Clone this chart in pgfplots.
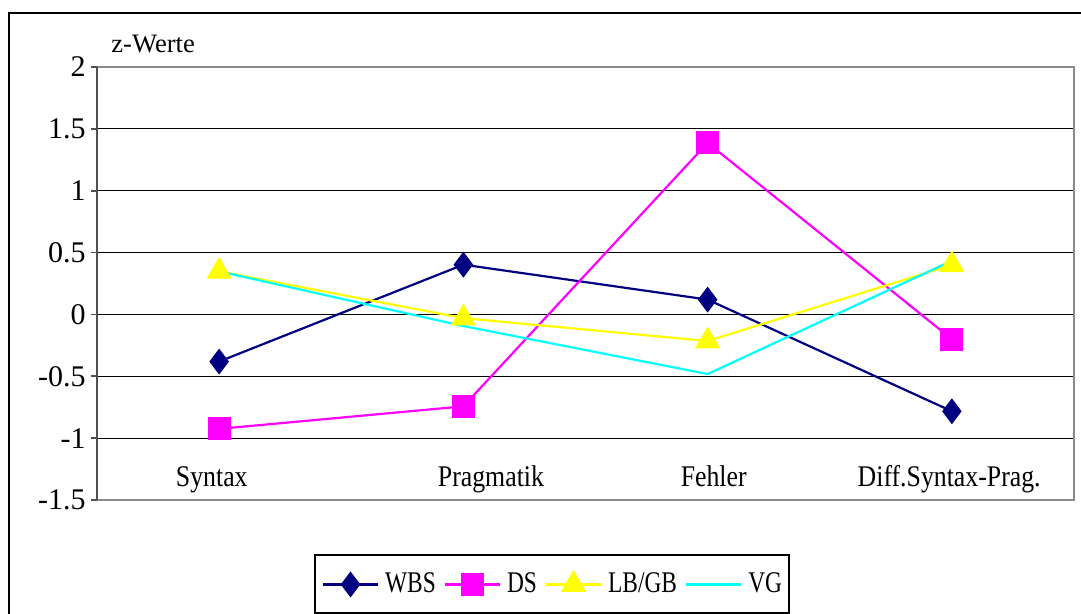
\documentclass[border=0pt]{standalone}
\usepackage{fontspec}
\setmainfont{Liberation Serif}
\newfontfamily\catfont[FakeStretch=0.86]{Liberation Serif}
\newfontfamily\legfont[FakeStretch=0.78]{Liberation Serif}
\usepackage{pgfplots}
\usepackage{pgfplotstable}
\pgfplotsset{compat=1.18}
\definecolor{navy}{HTML}{000080}
\definecolor{mag}{HTML}{FF00FF}
\definecolor{yel}{HTML}{FFFF00}
\definecolor{cya}{HTML}{00FFFF}
\definecolor{axgray}{HTML}{8A8A8A}
\definecolor{axdark}{HTML}{505050}

\pgfplotstableread{
x WBS DS LBGB VG
0 -0.381 -0.925 0.348 0.348
1 0.402 -0.743 -0.030 -0.094
2 0.120 1.387 -0.215 -0.482
3 -0.783 -0.200 0.400 0.434
}\datatable

\begin{document}
\begin{tikzpicture}
\useasboundingbox (0,0) rectangle (540.5pt,307pt);
\draw[line width=0.7pt] (4.5pt,-5pt) -- (4.5pt,300.5pt) -- (545pt,300.5pt);
\node[anchor=base west, inner sep=0pt, font=\fontsize{13.3}{15}\selectfont] at (55.5pt,280.5pt) {z-Werte};
\begin{axis}[
  at={(48.5pt,57pt)}, anchor=south west,
  scale only axis, width=488.5pt, height=216.5pt,
  xmin=-0.5, xmax=3.5, ymin=-1.5, ymax=2,
  clip=false,
  axis line style={draw=none},
  ytick={-1.5,-1,-0.5,0,0.5,1,1.5,2},
  ytick pos=left,
  tick align=outside,
  major tick length=3pt,
  ytick style={draw=axdark, line width=0.8pt},
  xtick={-0.03,1.113,2.025,2.989},
  xticklabels={Syntax,Pragmatik,Fehler,Diff.Syntax-Prag.},
  xtick style={draw=none},
  xticklabel style={anchor=base, inner sep=0pt, yshift=9.5pt, font=\catfont\fontsize{15}{18}\selectfont},
  yticklabel style={anchor=east, inner sep=0pt, xshift=-2.5pt, font=\fontsize{15}{18}\selectfont},
  /pgf/number format/assume math mode=true,
  ymajorgrids,
  grid style={black, line width=0.5pt},
  legend columns=4,
  legend style={at={(0.4657,-0.194)}, anchor=center, draw=black, line width=0.6pt,
    inner xsep=3.5pt, inner ysep=8.5pt,
    font=\legfont\fontsize{15}{17}\selectfont,
    /tikz/every odd column/.append style={column sep=3pt},
    /tikz/every even column/.append style={column sep=4pt},
    nodes={inner sep=0pt}},
  legend image code/.code={\draw[mark repeat=2,mark phase=2,#1] plot coordinates {(0pt,0pt) (13.75pt,0pt) (27.5pt,0pt)};},
]
\addplot[color=navy, line width=1.1pt, mark=diamond*, mark size=5.6pt, mark options={solid, fill=navy}] table[x=x,y=WBS]{\datatable};
\addlegendentry{WBS}
\addplot[color=mag, line width=1.1pt, mark=square*, mark size=5.2pt, mark options={solid, fill=mag}] table[x=x,y=DS]{\datatable};
\addlegendentry{DS}
\addplot[color=yel, line width=1.1pt, mark=triangle*, mark size=6.2pt, mark options={solid, fill=yel}] table[x=x,y=LBGB]{\datatable};
\addlegendentry{LB/GB}
\addplot[color=cya, line width=1.1pt, mark=none] table[x=x,y=VG]{\datatable};
\addlegendentry{VG}
\draw[axgray, line width=1pt] (rel axis cs:0,1) -- (rel axis cs:1,1) -- (rel axis cs:1,0) -- (rel axis cs:0,0);
\draw[axdark, line width=1pt] (rel axis cs:0,0) -- (rel axis cs:0,1);
\end{axis}
\end{tikzpicture}
\end{document}
